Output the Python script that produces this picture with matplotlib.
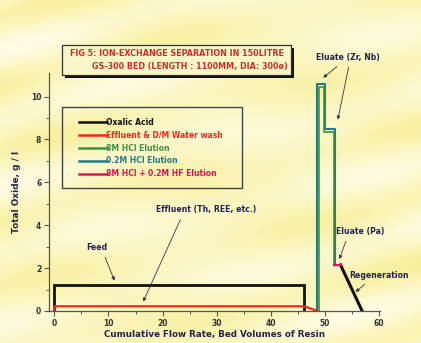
import numpy as np
import matplotlib
matplotlib.use("Agg")
import matplotlib.pyplot as plt
from matplotlib.patches import Rectangle
from matplotlib.lines import Line2D

# ---- series (bed volumes, total oxide g/l) ----
oxalic_x = [0, 0, 46.1, 46.1]
oxalic_y = [0, 1.2, 1.2, 0]
regen_x = [52.9, 56.9]
regen_y = [2.15, 0]
effluent_x = [0, 0, 46.2, 48.6]
effluent_y = [0, 0.22, 0.22, 0]
hcl02_x = [48.6, 48.6, 50.1, 50.1, 51.9, 51.9]
hcl02_y = [0, 10.6, 10.6, 8.5, 8.5, 2.15]
hcl8_x = [48.9, 48.9, 49.9, 49.9, 51.7, 51.7]
hcl8_y = [0, 10.45, 10.45, 8.35, 8.35, 2.15]
hf_x = [51.7, 52.9]
hf_y = [2.15, 2.15]

legend_labels = ["Oxalic Acid", "Effluent & D/M Water wash", "8M HCl Elution",
                 "0.2M HCl Elution", "8M HCl + 0.2M HF Elution"]
x_ticks = [0, 10, 20, 30, 40, 50, 60]
y_ticks = [0, 2, 4, 6, 8, 10]

C_BLACK = "#111111"
C_RED = "#ee2a1e"
C_GREEN = "#3f9046"
C_TEAL = "#1c7c8c"
C_MAG = "#d8185a"
C_NAVY = "#23234e"
C_TITLE = "#c8302a"

W, H = 421, 343
fig = plt.figure(figsize=(W / 100, H / 100), dpi=100)

# pale yellow streaky backdrop
yy, xx = np.mgrid[0:H, 0:W]
tex = (0.5 + 0.3 * np.sin(xx / 45.0 + yy / 11.0) + 0.2 * np.sin(xx / 60.0 - yy / 23.0)
       + 0.15 * np.sin((xx + 3 * yy) / 31.0))
tex = np.clip((tex - tex.min()) / (tex.max() - tex.min()), 0, 1)
base = np.array([0.975, 0.94, 0.62])
light = np.array([0.995, 0.99, 0.90])
img = base[None, None, :] * tex[..., None] + light[None, None, :] * (1 - tex[..., None])
fig.figimage(img, 0, 0, zorder=-10)

def fx(px):
    return px / W

def fy(py):
    return 1 - py / H

ax = fig.add_axes([fx(49), fy(311), fx(380) - fx(49), fy(73) - fy(311)], zorder=5)
ax.patch.set_alpha(0)
ax.set_xlim(-1, 60.2)
ax.set_ylim(0, 11.1)

ax.plot(oxalic_x, oxalic_y, color=C_BLACK, lw=2.0, solid_joinstyle="miter", zorder=3)
ax.plot(regen_x, regen_y, color=C_BLACK, lw=2.2, zorder=3)
ax.plot(effluent_x, effluent_y, color=C_RED, lw=1.6, zorder=4)
ax.plot(hcl02_x, hcl02_y, color=C_TEAL, lw=1.5, zorder=3)
ax.plot(hcl8_x, hcl8_y, color=C_GREEN, lw=1.2, zorder=3)
ax.plot(hf_x, hf_y, color=C_MAG, lw=1.6, zorder=4)

for s in ["top", "right"]:
    ax.spines[s].set_visible(False)
for s in ["left", "bottom"]:
    ax.spines[s].set_color("#555555")
    ax.spines[s].set_linewidth(0.9)

ax.set_xticks(x_ticks)
ax.set_yticks(y_ticks)
ax.set_xticks(np.arange(5, 60, 10), minor=True)
ax.set_yticks(np.arange(1, 11, 2), minor=True)
ax.tick_params(which="major", direction="out", length=3.5, width=0.8, colors="#555555",
               labelsize=5.5, labelcolor="#333333", pad=2)
ax.tick_params(which="minor", direction="out", length=2, width=0.7, colors="#555555")
for t in ax.get_xticklabels() + ax.get_yticklabels():
    t.set_fontweight("bold")

ax.set_xlabel("Cumulative Flow Rate, Bed Volumes of Resin", fontsize=6.3,
              fontweight="bold", color=C_NAVY, labelpad=2)
ax.set_ylabel("Total Oxide, g / l", fontsize=6.4, fontweight="bold", color=C_NAVY, labelpad=7)

# legend: entries without frame, framed by a separate rectangle
colors = [C_BLACK, C_RED, C_GREEN, C_TEAL, C_MAG]
handles = [Line2D([], [], color=c, lw=1.8) for c in colors]
leg = ax.legend(handles, legend_labels, loc="upper left",
                bbox_to_anchor=(fx(79), fy(118)), bbox_transform=fig.transFigure,
                fontsize=5.5, frameon=False, handlelength=3.6, handletextpad=0.0,
                labelspacing=0.5, borderpad=0, borderaxespad=0)
for txt, c in zip(leg.get_texts(), colors):
    txt.set_color(c)
    txt.set_fontweight("bold")
fig.patches.append(Rectangle((fx(62), fy(188)), fx(242) - fx(62), fy(107) - fy(188),
                             transform=fig.transFigure, facecolor="none",
                             edgecolor="#444444", lw=1.0, zorder=2))

# title box with drop shadow
fig.patches.append(Rectangle((fx(65), fy(78)), fx(294) - fx(65), fy(48) - fy(78),
                             transform=fig.transFigure, facecolor="#111111",
                             edgecolor="none", zorder=1))
fig.patches.append(Rectangle((fx(62), fy(75)), fx(291) - fx(62), fy(45) - fy(75),
                             transform=fig.transFigure, facecolor="#fbf6c8",
                             edgecolor="#333333", lw=0.9, zorder=2))
fig.text(fx(177), fy(54), "FIG 5: ION-EXCHANGE SEPARATION IN 150LITRE",
         fontsize=5.75, fontweight="bold", color=C_TITLE, ha="center", va="center", zorder=3)
fig.text(fx(190), fy(67), "GS-300 BED (LENGTH : 1100MM, DIA: 300\u00f8)",
         fontsize=5.75, fontweight="bold", color=C_TITLE, ha="center", va="center", zorder=3)

# annotations
ann = dict(fontsize=5.6, fontweight="bold", color=C_NAVY)
arrow = dict(arrowstyle="-|>", color="#333344", lw=0.6, mutation_scale=5)

ax.annotate("Eluate (Zr, Nb)", xy=(49.3, 10.8), xytext=(54.3, 11.7), ha="center",
            annotation_clip=False, arrowprops=arrow, **ann)
ax.annotate("", xy=(52.3, 8.8), xytext=(54.5, 11.5), annotation_clip=False,
            arrowprops=arrow)
ax.annotate("Effluent (Th, REE, etc.)", xy=(16.2, 0.32), xytext=(28.0, 4.6),
            ha="center", arrowprops=dict(arrow, relpos=(0.27, 0)), **ann)
ax.annotate("Feed", xy=(11.3, 1.3), xytext=(7.8, 2.85), ha="center",
            arrowprops=dict(arrow, relpos=(0.8, 0)), **ann)
ax.annotate("Eluate (Pa)", xy=(52.5, 2.3), xytext=(56.5, 3.6), ha="center",
            arrowprops=dict(arrow, relpos=(0.25, 0)), **ann)
ax.annotate("Regeneration", xy=(55.3, 0.8), xytext=(60.0, 1.55), ha="center",
            annotation_clip=False, arrowprops=dict(arrow, relpos=(0.35, 0)), **ann)

fig.savefig("out.png", dpi=100)
